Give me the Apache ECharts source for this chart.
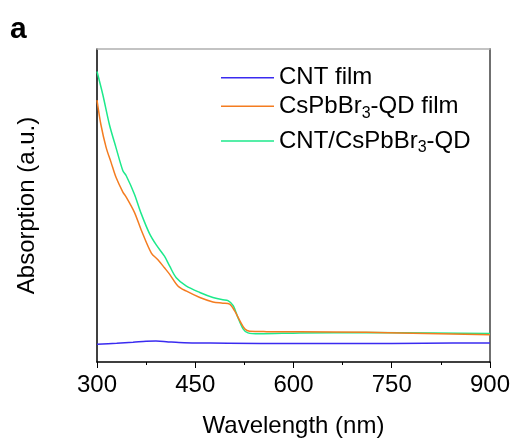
<!DOCTYPE html>
<html>
<head>
<meta charset="utf-8">
<script src="https://cdn.jsdelivr.net/npm/echarts@6/dist/echarts.min.js"></script>
<style>html,body{margin:0;padding:0;background:#fff}#c{width:513px;height:443px}</style>
</head>
<body>
<div id="c"></div>
<script>
var xTicks = [300, 450, 600, 750, 900];
var seriesNames = ['CNT film', 'CsPbBr3-QD film', 'CNT/CsPbBr3-QD'];
var cntFilm = [[300,0.057],[330,0.060],[355,0.063],[375,0.066],[390,0.067],[406,0.065],[425,0.062],[446,0.061],[500,0.060],[600,0.059],[700,0.059],[800,0.060],[900,0.061]];
var qdFilm = [[300,0.837],[306,0.758],[314,0.685],[321.6,0.637],[329,0.590],[339.5,0.543],[344.6,0.527],[357,0.479],[367.5,0.422],[383,0.348],[393,0.327],[403,0.301],[411,0.280],[423.5,0.243],[436,0.227],[457,0.206],[477,0.192],[492,0.188],[502.5,0.185],[510,0.164],[518,0.132],[525.5,0.106],[533,0.098],[559,0.097],[660,0.096],[762,0.093],[900,0.087]];
var cntQd = [[300,0.928],[309,0.853],[319,0.758],[329,0.685],[339.5,0.611],[344.6,0.595],[357,0.537],[367.5,0.474],[380,0.411],[390.5,0.374],[403,0.338],[411,0.306],[421,0.269],[436,0.243],[457,0.222],[477,0.206],[492,0.199],[500,0.196],[508,0.180],[515,0.143],[523,0.106],[530.5,0.093],[548,0.090],[610,0.093],[711,0.094],[813,0.093],[900,0.091]];
var colors = ['#3a2bf0', '#f47c20', '#1de98b'];

var FONT = 'Liberation Sans, Arial, sans-serif';
function fmt(name){
  if (name === 'CNT film') return '{n|CNT film}';
  if (name === 'CsPbBr3-QD film') return '{n|CsPbBr}{s|3}{n|-QD film}';
  return '{n|CNT/CsPbBr}{s|3}{n|-QD}';
}
var rich = {
  n: {fontSize: 24, fontFamily: FONT, color: '#000'},
  s: {fontSize: 16, fontFamily: FONT, color: '#000', padding: [14, 0, 0, 0]}
};
var legendTops = [76.7, 105.3, 140];
var legends = seriesNames.map(function(nm, i){
  return {
    data: [nm], left: 221, top: legendTops[i] - 11, orient: 'vertical', padding: 0,
    icon: 'rect', itemWidth: 53, itemHeight: 1.5, itemGap: 0,
    formatter: fmt, textStyle: {rich: rich, padding: [0,0,0,0]},
    selectedMode: false
  };
});
var chart = echarts.init(document.getElementById('c'), null, {renderer: 'canvas'});
chart.setOption({
  animation: false,
  backgroundColor: '#fff',
  color: colors,
  legend: legends,
  graphic: [{type: 'text', left: 10, top: 15, style: {text: 'a', font: 'bold 30px ' + FONT, fill: '#000'}}],
  grid: {left: 97, right: 23, top: 49, bottom: 75},
  xAxis: [{
    type: 'value', min: 300, max: 900, interval: 150,
    name: 'Wavelength (nm)', nameLocation: 'middle', nameGap: 52,
    nameTextStyle: {fontSize: 24, fontFamily: FONT, color: '#000'},
    axisLine: {show: true, onZero: false, lineStyle: {color: '#000', width: 1.5}},
    axisTick: {show: true, inside: false, length: 6, lineStyle: {color: '#000'}},
    minorTick: {show: true, splitNumber: 2, length: 3, lineStyle: {color: '#000'}},
    axisLabel: {fontSize: 24, fontFamily: FONT, color: '#000', margin: 11,
      formatter: function(v){ return xTicks.indexOf(v) >= 0 ? String(v) : ''; }},
    splitLine: {show: false}
  }, {
    type: 'value', position: 'top', min: 300, max: 900,
    axisLine: {show: true, onZero: false, lineStyle: {color: '#b0b0b0', width: 1.5}},
    axisTick: {show: false}, axisLabel: {show: false}, splitLine: {show: false}
  }],
  yAxis: [{
    type: 'value', min: 0, max: 1,
    name: 'Absorption (a.u.)', nameLocation: 'middle', nameGap: 58, nameRotate: 90,
    nameTextStyle: {fontSize: 24, fontFamily: FONT, color: '#000'},
    axisLine: {show: true, onZero: false, lineStyle: {color: '#000', width: 1.5}},
    axisTick: {show: false}, axisLabel: {show: false}, splitLine: {show: false}
  }, {
    type: 'value', position: 'right', min: 0, max: 1,
    axisLine: {show: true, onZero: false, lineStyle: {color: '#707070', width: 2}},
    axisTick: {show: false}, axisLabel: {show: false}, splitLine: {show: false}
  }],
  series: [
    {name: seriesNames[0], type: 'line', data: cntFilm, smooth: 0.3, symbol: 'none', lineStyle: {width: 1.5, color: colors[0]}, z: 3},
    {name: seriesNames[1], type: 'line', data: qdFilm, smooth: 0.3, symbol: 'none', lineStyle: {width: 1.5, color: colors[1]}, z: 4},
    {name: seriesNames[2], type: 'line', data: cntQd, smooth: 0.3, symbol: 'none', lineStyle: {width: 1.5, color: colors[2]}, z: 2}
  ]
});
</script>
</body>
</html>
